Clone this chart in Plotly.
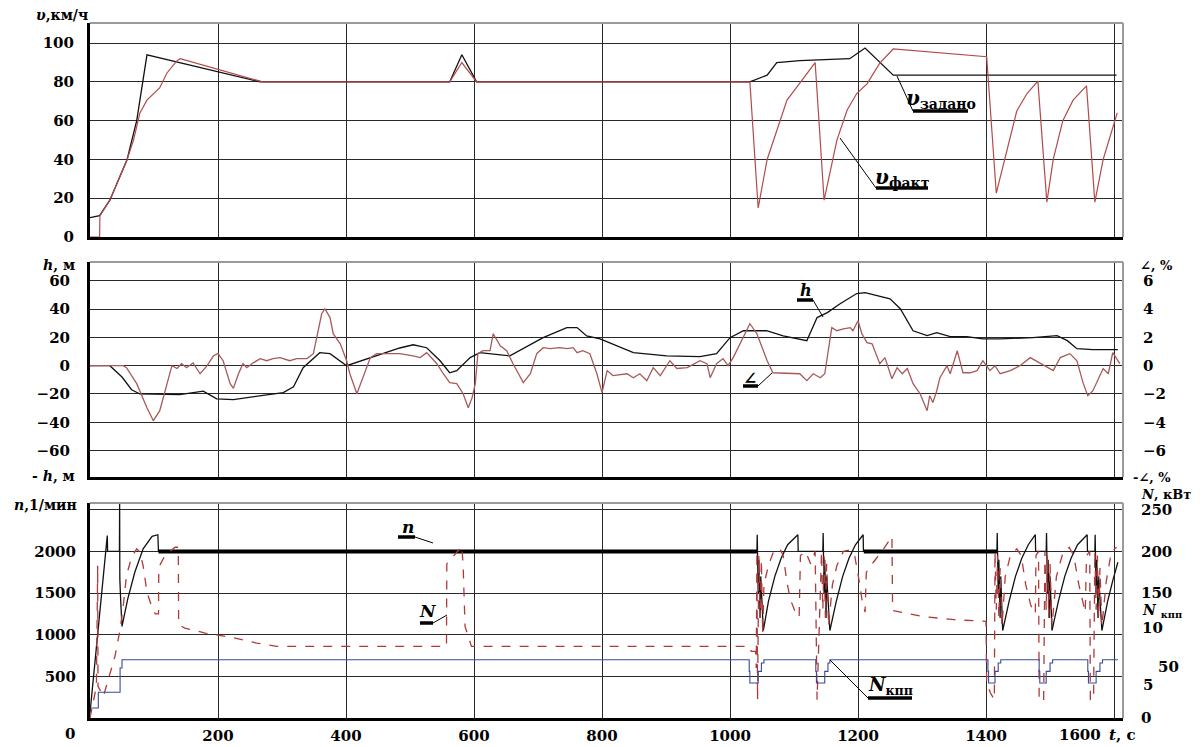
import plotly.graph_objects as go

# ---------------- DATA ----------------
# Panel 1: speed, km/h
t_v_set = [0, 15, 31, 58, 73, 89, 266, 562, 581, 604, 1031, 1058, 1073, 1109, 1187, 1211, 1255, 1604]
v_set = [10, 11, 19, 40, 60, 94, 80, 80, 94, 80, 80, 83.5, 90, 91, 92, 97.5, 83.5, 83.5]

t_v_act = [0, 15, 15.5, 31, 58, 68, 78, 89, 109, 120, 136, 141, 270, 562, 581, 604, 1031, 1044, 1058, 1073,
           1089, 1109, 1133, 1147, 1156, 1167, 1183, 1198, 1214, 1234, 1255, 1401, 1416, 1433, 1448, 1464,
           1481, 1495, 1505, 1520, 1536, 1557, 1570, 1583, 1605]
v_act = [0, 0, 11, 19, 40, 50, 64, 70.6, 77, 84.5, 91, 92, 80, 80, 90, 80, 80, 15, 40, 55,
         70.6, 79.4, 90, 19, 33, 50, 65.5, 74, 79, 89.7, 97, 93, 22.6, 46, 65, 74,
         80.4, 18, 40, 60, 70.6, 78, 18, 40, 64]

# Panel 2: altitude h, m and grade angle, %
t_h = [0, 31, 50, 65, 78, 140, 177, 198, 224, 302, 318, 333, 359, 375, 401, 484, 505, 526, 547, 562,
       573, 594, 609, 656, 708, 745, 761, 776, 797, 849, 901, 953, 979, 1000, 1021, 1057, 1083, 1109, 1120, 1136,
       1152, 1172, 1198, 1211, 1230, 1250, 1266, 1286, 1308, 1323, 1344, 1370, 1395, 1422, 1473, 1511, 1527, 1542,
       1567, 1606]
h = [0, 0, -8, -17, -20, -20.5, -18, -23.5, -24, -19, -15, -1.4, 9.2, 8.5, 0, 12.5, 14.8, 12.7, 3.5, -5,
     -3.5, 5.7, 9.2, 7, 19.8, 26.9, 26.9, 21, 19, 9.2, 7, 6.4, 8.5, 19.8, 24.7, 24.7, 21, 18.4, 17.7, 34,
     37.5, 43.8, 51, 51.6, 49.5, 47.3, 40.3, 24.7, 21.2, 23.3, 20.5, 20.5, 19, 19, 19.8, 21.2, 17.7, 12,
     11.3, 11.3]

t_ang = [0, 52, 57, 73, 89, 99, 109, 120, 128, 136,
         143, 151, 161, 172, 183, 193, 200, 208, 219, 224,
         232, 239, 245, 255, 266, 276, 286, 297, 312, 323,
         339, 349, 355, 362, 367, 375, 380, 391, 401, 406,
         417, 425, 433, 438, 448, 484, 505, 516, 526, 542,
         552, 562, 573, 583, 591, 597, 602, 606, 614, 625,
         630, 641, 651, 661, 677, 688, 698, 708, 719, 734,
         745, 755, 761, 770, 781, 792, 800, 808, 817, 839,
         849, 859, 870, 880, 891, 906, 917, 933, 953, 964,
         969, 979, 989, 997, 1005, 1021, 1031, 1042, 1058, 1067,
         1109, 1120, 1130, 1141, 1148, 1159, 1167, 1177, 1188, 1192,
         1200, 1206, 1214, 1222, 1234, 1242, 1253, 1261, 1269, 1277,
         1286, 1297, 1308, 1312, 1317, 1323, 1328, 1339, 1344, 1355,
         1364, 1375, 1386, 1395, 1406, 1414, 1422, 1438, 1453, 1469,
         1484, 1505, 1516, 1531, 1542, 1552, 1559, 1567, 1583, 1591,
         1598, 1609]
ang = [0, 0, -0.14, -1.27, -2.97, -3.89, -3.18, -1.27, 0, -0.2,
       0.14, -0.14, 0.2, -0.57, 0, 0.7, 0.85, 0.35, -1.27, -1.6,
       -0.57, 0.14, -0.14, 0.2, 0.5, 0.35, 0.5, 0.57, 0.35, 0.5,
       0.5, 0.85, 2.26, 3.67, 4.03, 3.4, 2.26, 1.55, 0.35, -0.57,
       -1.98, -1.06, -0.14, 0.57, 0.85, 0.85, 0.7, 0.57, 0.92, 0.14,
       -0.57, -1.2, -1.27, -1.98, -2.97, -2.26, -1.27, 0.85, 1.06, 1.06,
       2.26, 1.4, 1.06, 0.14, -1.2, -0.57, 0.85, 1.27, 1.2, 1.27,
       1.2, 1.27, 0.92, 1.06, 0.85, -0.57, -1.9, -0.35, -0.7, -0.57,
       -0.85, -0.57, -1.06, -0.14, -0.7, 0.35, -0.2, -0.14, 0.35, 0.14,
       -0.85, 0.14, 0.5, 0, 0.57, 2.12, 2.97, 2.26, 0.35, -0.5,
       -0.57, -1.06, -0.57, -0.85, -0.57, 2.69, 2.47, 2.6, 2.69, 2.47,
       3.18, 2.26, 1.63, 1.55, 0.14, 0.57, -0.92, -0.14, -0.57, -0.2,
       -1.27, -1.98, -3.18, -2.12, -2.6, -1.77, -0.85, 0, -0.57, 1.06,
       -0.5, -0.5, -0.35, 0.35, -0.35, 0, -0.57, -0.35, 0, 0.57,
       0.2, -0.35, 0.57, 0.85, 0.35, -1.27, -2.12, -1.77, -0.2, -0.57,
       0.92, 0.14]

# Panel 3: engine speed n, 1/min
t_n = [0, 27, 27.5, 46, 46.3, 46.6, 48, 50, 59, 70, 83, 97, 106, 107,
       1042, 1042.5, 1044, 1045, 1047, 1048, 1052, 1060, 1070, 1080, 1090, 1106, 1106.5,
       1145, 1145.5, 1147, 1148, 1150, 1151, 1156, 1166, 1176, 1186, 1196, 1208, 1208.5,
       1417, 1417.5, 1419, 1420, 1422, 1423, 1426, 1436, 1446, 1456, 1466, 1477, 1477.5,
       1494, 1494.5, 1496, 1497, 1499, 1500, 1503, 1513, 1523, 1533, 1543, 1558, 1558.5,
       1570, 1570.5, 1572, 1573, 1575, 1576, 1581, 1590, 1598, 1606]
n_rpm = [60, 2190, 2000, 2000, 2600, 1670, 1400, 1100, 1430, 1750, 2030, 2180, 2200, 2000,
         2000, 2200, 1500, 1900, 1200, 1700, 1050, 1400, 1700, 1920, 2080, 2200, 2000,
         2000, 2220, 1500, 1900, 1200, 1700, 1050, 1400, 1700, 1920, 2080, 2200, 2000,
         2000, 2220, 1500, 1900, 1200, 1700, 1050, 1400, 1700, 1920, 2080, 2200, 2000,
         2000, 2220, 1500, 1900, 1200, 1700, 1050, 1400, 1700, 1920, 2080, 2200, 2000,
         2000, 2200, 1500, 1900, 1200, 1700, 1050, 1400, 1650, 1870]
# steady-state stretches of n (drawn heavier)
n_steady_start = [107, 1209]
n_steady_end = [1042, 1417]
n_steady_value = [2000, 2000]

# engine power N, kW
t_N = [0, 10, 12, 12.5, 21, 29, 39, 47, 52, 57,
       65, 73, 78, 83, 89, 96, 102, 107, 107.5, 117,
       133, 138, 138.5, 148, 180, 220, 260, 292, 557, 557.5,
       568, 581, 583, 586, 596,
       1031, 1033, 1040, 1041, 1042, 1043, 1045, 1047, 1049, 1051,
       1053, 1060, 1068, 1078, 1083, 1089, 1094, 1102, 1108, 1110,
       1118, 1126, 1133, 1136, 1143, 1145, 1147, 1149, 1151, 1154,
       1160, 1167, 1177, 1188, 1195, 1201, 1206, 1211, 1213, 1224,
       1240, 1253, 1254, 1300, 1350, 1400,
       1401, 1407, 1413, 1414, 1416, 1418, 1420, 1422, 1425, 1430,
       1438, 1448, 1455, 1462, 1470, 1477, 1478, 1482, 1483, 1490,
       1492, 1494, 1496, 1498, 1500, 1503, 1510, 1520, 1530, 1537,
       1545, 1555, 1557, 1562, 1563, 1568, 1570, 1572, 1574, 1576,
       1578, 1581, 1588, 1596, 1604]
N_kw = [0, 38, 183, 38, 26, 46, 74, 106, 135, 171,
        193, 203, 199, 183, 151, 135, 125, 125, 181, 195,
        205, 205, 112, 108, 102, 97, 90, 86, 86, 185,
        195, 206, 183, 110, 86,
        86, 80, 80, 60, 200, 22, 195, 120, 190, 100,
        160, 183, 200, 203, 195, 163, 143, 127, 121, 195,
        200, 185, 200, 22, 200, 130, 195, 120, 185, 110,
        160, 183, 200, 202, 194, 168, 143, 127, 175, 187,
        203, 218, 129, 122, 118, 116,
        42, 30, 22, 200, 130, 195, 120, 180, 110, 170,
        195, 203, 195, 160, 135, 125, 195, 200, 22, 20,
        200, 130, 195, 120, 185, 110, 170, 198, 205, 195,
        160, 127, 195, 200, 22, 22, 200, 130, 195, 120,
        180, 110, 165, 200, 205]

# gearbox power N_кпп (step line)
t_kpp = [0, 13, 47, 50, 1030, 1031, 1044, 1049, 1053, 1134, 1135, 1148, 1153, 1156,
         1403, 1404, 1414, 1419, 1423, 1483, 1484, 1494, 1500, 1504, 1559, 1560, 1572, 1578, 1582, 1606]
N_kpp = [1.2, 3.1, 6.0, 7.0, 5.6, 4.2, 5.6, 6.6, 7.0, 5.6, 4.2, 5.6, 6.6, 7.0,
         5.6, 4.2, 5.6, 6.6, 7.0, 5.6, 4.2, 5.6, 6.6, 7.0, 5.6, 4.2, 5.6, 6.6, 7.0, 7.0]

# axes / ticks
T_MAX = 1614
x_grid = [0, 200, 400, 600, 800, 1000, 1200, 1400, 1600]
x_labels = [200, 400, 600, 800, 1000, 1200, 1400]
v_ticks = [0, 20, 40, 60, 80, 100]
h_ticks = [-60, -40, -20, 0, 20, 40, 60]
ang_ticks = [-6, -4, -2, 0, 2, 4, 6]
n_ticks = [500, 1000, 1500, 2000]
n_grid_extra = [2500]
N_ticks = [0, 150, 200, 250]
V_RANGE = [0, 110.4]
H_RANGE = [-78.7, 73.3]
ANG_RANGE = [-7.87, 7.33]
N_RANGE = [0, 2581]
NKW_RANGE = [0, 258.1]
NKPP_RANGE = [0, 25.81]

# ---------------- LAYOUT HELPERS ----------------
OFF = 8                      # page body margin of the browser
W, H = 1194, 739
L, R, T, B = 82, 79, 15, 29
PW, PH = W - L - R, H - T - B


def px(x):                   # screen pixel -> paper
    return (x - OFF - L) / PW


def py(y):
    return (H - B - (y - OFF)) / PH


dom1 = [py(237), 1.0]
dom2 = [py(477), py(262)]
dom3 = [0.0, py(503)]

SERIF = "DejaVu Serif"
tickfont = dict(family=SERIF, size=15, color="black", weight="bold")
GRID = "#2a2a2a"

fig = go.Figure()

# Panel 1
fig.add_trace(go.Scatter(x=t_v_set, y=v_set, mode="lines", line=dict(color="#111", width=1.3),
                         xaxis="x", yaxis="y", name="v задано"))
fig.add_trace(go.Scatter(x=t_v_act, y=v_act, mode="lines", line=dict(color="#b34a4a", width=1.2),
                         xaxis="x", yaxis="y", name="v факт"))
# Panel 2
fig.add_trace(go.Scatter(x=t_ang, y=ang, mode="lines", line=dict(color="#a85a5a", width=1.3),
                         xaxis="x2", yaxis="y4", name="angle"))
fig.add_trace(go.Scatter(x=t_h, y=h, mode="lines", line=dict(color="#111", width=1.3),
                         xaxis="x2", yaxis="y2", name="h"))
# Panel 3
fig.add_trace(go.Scatter(x=t_kpp, y=N_kpp, mode="lines", line=dict(color="#3a4a9a", width=1.1, shape="hv"),
                         xaxis="x3", yaxis="y6", name="N kpp"))
fig.add_trace(go.Scatter(x=t_N, y=N_kw, mode="lines", line=dict(color="#b03a3a", width=1.3, dash="dash"),
                         xaxis="x3", yaxis="y5", name="N"))
fig.add_trace(go.Scatter(x=t_n, y=n_rpm, mode="lines", line=dict(color="#111", width=1.3),
                         xaxis="x3", yaxis="y3", name="n"))
for s, e, val in zip(n_steady_start, n_steady_end, n_steady_value):
    fig.add_trace(go.Scatter(x=[s, e], y=[val, val], mode="lines", line=dict(color="#000", width=4),
                             xaxis="x3", yaxis="y3", showlegend=False))

xcommon = dict(range=[0, T_MAX], showgrid=True, gridcolor=GRID, gridwidth=1.2, automargin=False,
               showline=True, linecolor="black", linewidth=3, zeroline=False)
ycommon = dict(showgrid=True, gridcolor=GRID, gridwidth=1.1, showline=True, linecolor="black", linewidth=3,
               zeroline=False, ticks="outside", tickcolor="rgba(0,0,0,0)", tickfont=tickfont, automargin=False)
rcommon = dict(showgrid=False, zeroline=False, ticks="outside", tickcolor="rgba(0,0,0,0)",
               tickfont=tickfont, automargin=False)

fig.update_layout(
    template="none",
    width=W, height=H, margin=dict(l=L, r=R, t=T, b=B, pad=0), autosize=False,
    paper_bgcolor="white", plot_bgcolor="white", showlegend=False,
    xaxis=dict(domain=[0, 1], anchor="y", tickvals=x_grid, showticklabels=False, ticks="", **xcommon),
    xaxis2=dict(domain=[0, 1], anchor="y2", matches="x", tickvals=x_grid, showticklabels=False, ticks="",
                **xcommon),
    xaxis3=dict(domain=[0, 1], anchor="y3", matches="x", tickvals=x_labels, tickfont=tickfont,
                ticks="outside", ticklen=2, tickcolor="rgba(0,0,0,0)",
                minor=dict(tickvals=x_grid, showgrid=True, gridcolor=GRID, gridwidth=1.2, ticks=""),
                **xcommon),
    yaxis=dict(domain=dom1, anchor="x", range=V_RANGE, tickvals=v_ticks, ticklen=10, **ycommon),
    yaxis2=dict(domain=dom2, anchor="x2", range=H_RANGE, tickvals=h_ticks, ticklen=14, **ycommon),
    yaxis3=dict(domain=dom3, anchor="x3", range=N_RANGE, tickvals=n_ticks, ticklen=8,
                minor=dict(tickvals=n_grid_extra, showgrid=True, gridcolor=GRID, gridwidth=1.1, ticks=""),
                **ycommon),
    yaxis4=dict(overlaying="y2", anchor="x2", side="right", range=ANG_RANGE, tickvals=ang_ticks,
                ticklen=16, **rcommon),
    yaxis5=dict(overlaying="y3", anchor="x3", side="right", range=NKW_RANGE, tickvals=N_ticks,
                ticklen=14, **rcommon),
    yaxis6=dict(overlaying="y3", anchor="x3", side="right", range=NKPP_RANGE, visible=False,
                automargin=False),
)

# grey top / right frame lines
shapes = []
for d in (dom1, dom2, dom3):
    shapes.append(dict(type="line", xref="paper", yref="paper", x0=0, x1=1, y0=d[1], y1=d[1],
                       line=dict(color="#9a9a9a", width=2)))
    shapes.append(dict(type="line", xref="paper", yref="paper", x0=1, x1=1, y0=d[0], y1=d[1],
                       line=dict(color="#9a9a9a", width=2)))


def seg(x0, y0, x1, y1, w=1.0):
    shapes.append(dict(type="line", xref="paper", yref="paper", x0=px(x0), y0=py(y0), x1=px(x1), y1=py(y1),
                       line=dict(color="black", width=w)))


# leader lines and underlines of the curve labels
seg(897, 76, 913, 111); seg(913, 111, 968, 111, 3.5)          # v задано
seg(840, 138, 876, 188); seg(876, 188, 928, 188, 3.5)         # v факт
seg(823, 317, 813, 300); seg(797, 300, 813, 300, 3.5)         # h
seg(772, 373, 758, 386); seg(743, 386, 758, 386, 3.5)         # angle
seg(433, 543, 415, 537); seg(398, 537, 415, 537, 3.5)         # n
seg(447, 615, 433, 623); seg(420, 623, 433, 623, 3.5)         # N
seg(830, 660, 868, 698); seg(868, 698, 912, 698, 3.5)         # N kpp
fig.update_layout(shapes=shapes)

ann = []


def text(x, y, s, size=15, xanchor="center", yanchor="middle"):
    ann.append(dict(xref="paper", yref="paper", x=px(x), y=py(y), text=s, showarrow=False,
                    xanchor=xanchor, yanchor=yanchor,
                    font=dict(family=SERIF, size=size, color="black", weight="bold")))


# axis titles
text(90, 15, "<i>υ</i>,км/ч", 14, xanchor="right")
text(77, 265, "<i>h</i>, м", 14, xanchor="right")
text(77, 476, "- <i>h</i>, м", 14, xanchor="right")
text(79, 505, "<i>n</i>,1/мин", 14, xanchor="right")
text(1138, 265, "∠, %", 13, xanchor="left")
text(1131, 477, "-∠, %", 13, xanchor="left")
text(1139, 494, "<i>N</i>, кВт", 13, xanchor="left")
text(1140, 611, "<i>N</i> <sub>кпп</sub>", 14, xanchor="left")
text(1140, 628, "10", 15, xanchor="left")
text(1156, 667, "50", 15, xanchor="left")
text(1141, 685, "5", 15, xanchor="left")
# bottom axis extras
text(70, 734, "0", 15)
text(1080, 735, "1600", 15)
text(1122, 735, "<i>t</i>, с", 15)
# curve labels
text(941, 99, "<i>υ</i><sub>задано</sub>", 20)
text(902, 178, "<i>υ</i><sub>факт</sub>", 20)
text(806, 290, "<i>h</i>", 16)
text(750, 378, "∠", 17)
text(408, 527, "<i>n</i>", 17)
text(428, 611, "<i>N</i>", 17)
text(890, 686, "<i>N</i><sub>кпп</sub>", 18)
fig.update_layout(annotations=ann)

fig.write_html("out.html")
